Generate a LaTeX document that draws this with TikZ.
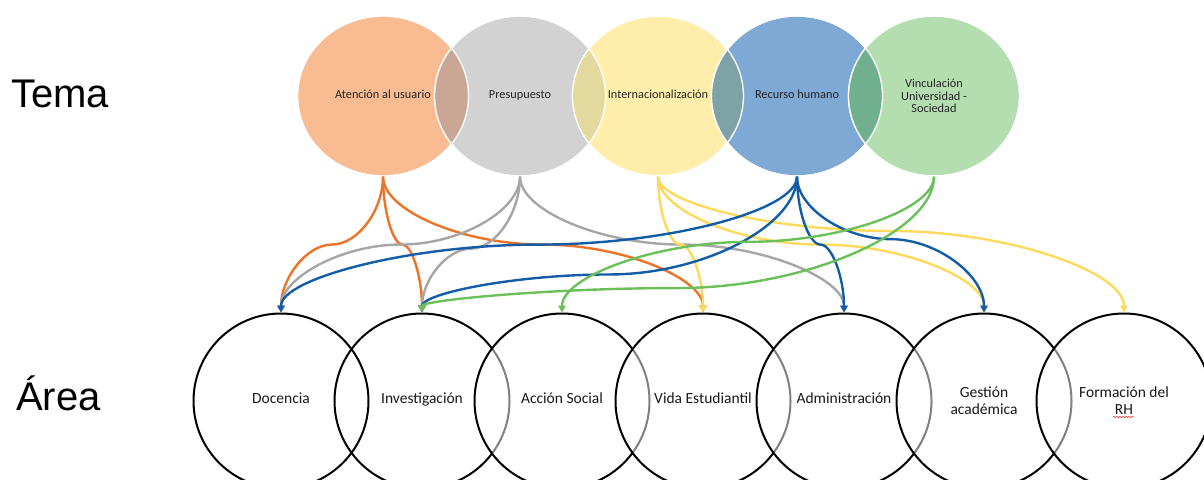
\documentclass[tikz,border=0pt]{standalone}
\usepackage{fontspec}
\setmainfont{Carlito}
\newfontfamily\arialf{Liberation Sans}
\usetikzlibrary{shapes.geometric,arrows.meta,calc,decorations.pathmorphing}
\definecolor{cOr}{HTML}{F8BB92}
\definecolor{cGr}{HTML}{D2D2D2}
\definecolor{cYe}{HTML}{FFEDAC}
\definecolor{cBl}{HTML}{7EA9D5}
\definecolor{cGn}{HTML}{B4DDB0}
\definecolor{lOG}{HTML}{C9A794}
\definecolor{lGY}{HTML}{E3D89E}
\definecolor{lYB}{HTML}{7EA3A6}
\definecolor{lBG}{HTML}{70B08F}
\definecolor{kOr}{HTML}{ED7326}
\definecolor{kGr}{HTML}{A6A6A6}
\definecolor{kYe}{HTML}{FFD95C}
\definecolor{kBl}{HTML}{135DA8}
\definecolor{kGn}{HTML}{6CC05A}
\newcommand{\curv}[4]{%
  \draw[conn,#1] let \p1=(#2.south), \p2=(#3.north), \n1={\y1+#4*(\y2-\y1)} in
   (\p1) .. controls (\x1,{(\y1+\n1)/2}) and ({(3*\x1+\x2)/4},\n1) .. ({(\x1+\x2)/2},\n1)
   .. controls ({(\x1+3*\x2)/4},\n1) and (\x2,{(\n1+\y2)/2}) .. (\p2);}
\begin{document}
\begin{tikzpicture}[x=1pt,y=1pt,
  topc/.style={ellipse, minimum width=171pt, minimum height=160pt, inner sep=0pt,
    draw=white, line width=1.3pt, font=\fontsize{12.3}{12.5}\selectfont, text=black!85, align=center},
  botc/.style={circle, minimum size=175pt, inner sep=0pt, draw=black, line width=2pt,
    font=\fontsize{15.5}{17}\selectfont, text=black!90, align=center},
  oneline/.style={text height=0.72em, text depth=0.22em},
  veil/.style={fill=white, fill opacity=0.5, text opacity=1},
  conn/.style={line width=2.4pt, -{Triangle[length=7pt,width=7.5pt]}},
  bigl/.style={font=\arialf\fontsize{40}{42}\selectfont, inner sep=0pt, anchor=base west},
  wline/.style={white, line width=1.3pt}
]
\useasboundingbox (0,0) rectangle (1204,-479);
% left labels
\node[bigl] (tema) at (11,-107) {Tema};
\node[bigl] (area) at (16,-410) {Área};
% top circles
\node[topc, oneline, fill=cOr] (t1) at (383,-96) {Atención al usuario};
\node[topc, oneline, fill=cGr] (t2) at (520,-96) {Presupuesto};
\node[topc, oneline, fill=cYe] (t3) at (658,-96) {Internacionalización};
\node[topc, oneline, fill=cBl] (t4) at (797,-96) {Recurso humano};
\node[topc, fill=cGn] (t5) at (934,-96) {Vinculación\\Universidad -\\Sociedad};
% lenses
\begin{scope}\clip (t1.center) ellipse [x radius=85.5, y radius=80];
  \fill[lOG] (t2.center) ellipse [x radius=85.5, y radius=80];\end{scope}
\begin{scope}\clip (t2.center) ellipse [x radius=85.5, y radius=80];
  \fill[lGY] (t3.center) ellipse [x radius=85.5, y radius=80];\end{scope}
\begin{scope}\clip (t3.center) ellipse [x radius=85.5, y radius=80];
  \fill[lYB] (t4.center) ellipse [x radius=85.5, y radius=80];\end{scope}
\begin{scope}\clip (t4.center) ellipse [x radius=85.5, y radius=80];
  \fill[lBG] (t5.center) ellipse [x radius=85.5, y radius=80];\end{scope}
\foreach \t in {t1,t2,t3,t4,t5}{\draw[wline] (\t.center) ellipse [x radius=85.5, y radius=80];}
% bottom circles
\node[botc, oneline] (b1) at (281,-401) {Docencia};
\node[botc, oneline] (b2) at (422,-401) {Investigación};
\node[botc, oneline, veil] (b3) at (562,-401) {Acción Social};
\node[botc, oneline, veil] (b4) at (703,-401) {Vida Estudiantil};
\node[botc, oneline, veil] (b5) at (844,-401) {Administración};
\node[botc,veil] (b6) at (984,-401) {Gestión\\académica};
\node[botc,veil] (b7) at (1124,-401) {Formación del\\RH};
\coordinate (sq1) at (1113,-417);
\coordinate (sq2) at (1134,-417);
\draw[red!80, line width=0.6pt, decorate, decoration={snake, amplitude=0.8pt, segment length=3pt}] (sq1) -- (sq2);
% connectors
\curv{kOr}{t1}{b1}{0.5}
\curv{kOr}{t1}{b2}{0.5}
\curv{kOr}{t1}{b4}{0.5}
\curv{kGr}{t2}{b1}{0.5}
\curv{kGr}{t2}{b2}{0.53}
\curv{kGr}{t2}{b5}{0.5}
\curv{kYe}{t3}{b4}{0.5}
\curv{kYe}{t3}{b6}{0.5}
\curv{kYe}{t3}{b7}{0.4}
\curv{kBl}{t4}{b1}{0.5}
\curv{kBl}{t4}{b2}{0.72}
\curv{kBl}{t4}{b5}{0.5}
\curv{kBl}{t4}{b6}{0.46}
\curv{kGn}{t5}{b2}{0.82}
\curv{kGn}{t5}{b3}{0.48}
\end{tikzpicture}
\end{document}
